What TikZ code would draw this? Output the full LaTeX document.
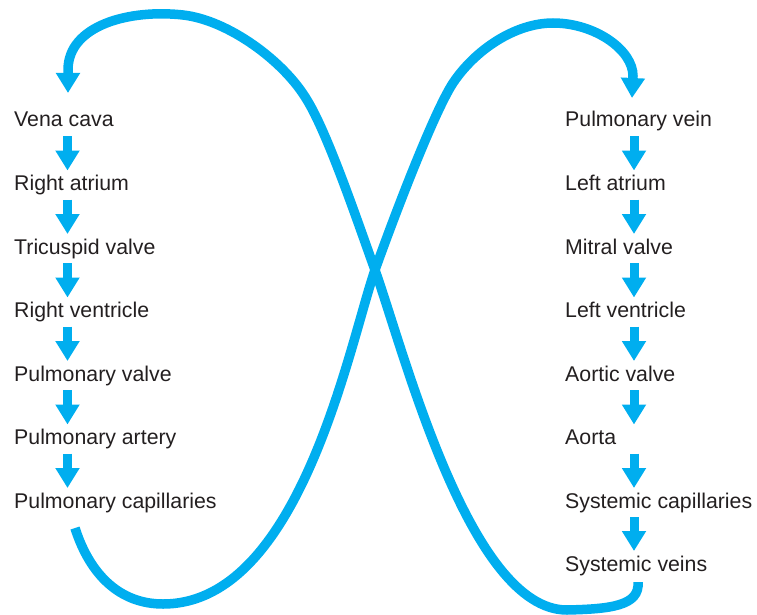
\documentclass[tikz,border=0pt]{standalone}
\usepackage{fontspec}
\setmainfont{Liberation Sans}
\usetikzlibrary{arrows.meta,calc}
\definecolor{flow}{HTML}{00AEEF}
\definecolor{ink}{HTML}{231F20}
\begin{document}
\begin{tikzpicture}[x=1pt,y=-1pt,
  lbl/.style={anchor=base west,inner sep=0pt,text=ink,font=\fontsize{21.3}{25}\selectfont},
  smallarrow/.style={draw=flow,line width=9pt,-{Triangle[width=23pt,length=20pt]}},
  bigcurve/.style={draw=flow,line width=9.5pt,-{Triangle[width=23pt,length=20pt]}}]
\useasboundingbox (0,0) rectangle (757,615);
% left column
\node[lbl] (vc) at (14,127) {Vena cava};
\node[lbl] (ra) at (14,190.5) {Right atrium};
\node[lbl] (tv) at (14,254) {Tricuspid valve};
\node[lbl] (rv) at (14,317.5) {Right ventricle};
\node[lbl] (pv) at (14,381) {Pulmonary valve};
\node[lbl] (pa) at (14,444.5) {Pulmonary artery};
\node[lbl] (pc) at (14,508) {Pulmonary capillaries};
% right column
\node[lbl] (pvn) at (565,127) {Pulmonary vein};
\node[lbl] (la) at (565,190.5) {Left atrium};
\node[lbl] (mv) at (565,254) {Mitral valve};
\node[lbl] (lv) at (565,317.5) {Left ventricle};
\node[lbl] (av) at (565,381) {Aortic valve};
\node[lbl] (ao) at (565,444.5) {Aorta};
\node[lbl] (sc) at (565,508) {Systemic capillaries};
\node[lbl] (sv) at (565,571) {Systemic veins};
% small arrows
\foreach \a/\b in {vc/ra,ra/tv,tv/rv,rv/pv,pv/pa,pa/pc}
  \draw[smallarrow] ($(\a.base west)+(53.5,9)$) -- ($(\b.base west)+(53.5,-20)$);
\foreach \a/\b in {pvn/la,la/mv,mv/lv,lv/av,av/ao,ao/sc,sc/sv}
  \draw[smallarrow] ($(\a.base west)+(69,9)$) -- ($(\b.base west)+(69,-20)$);
% big curves
\coordinate (svend) at ($(sv.base west)+(73,11)$);
\coordinate (vctip) at ($(vc.base west)+(54,-34)$);
\coordinate (pcend) at ($(pc.base west)+(61,20)$);
\coordinate (pvtip) at ($(pvn.base west)+(67,-29)$);
\coordinate (xing) at (375,270);
% systemic veins -> vena cava
\draw[bigcurve] (svend)
  .. controls (640,606) and (610,609) .. (567,610)
  .. controls (470,610) and (405,355) .. (xing)
  .. controls (358,223) and (328,134) .. (307,100)
  .. controls (284,61) and (228,20) .. (183,15)
  .. controls (130,9) and (68,25) .. (68,70)
  -- (vctip);
% pulmonary capillaries -> pulmonary vein
\draw[bigcurve] (pcend)
  .. controls (90,575) and (120,604) .. (163,604)
  .. controls (300,604) and (349,345) .. (xing)
  .. controls (395,214) and (434,112) .. (453,83)
  .. controls (475,50) and (515,23) .. (553,23)
  .. controls (595,23) and (633,50) .. (633,76)
  -- (pvtip);
\end{tikzpicture}
\end{document}
